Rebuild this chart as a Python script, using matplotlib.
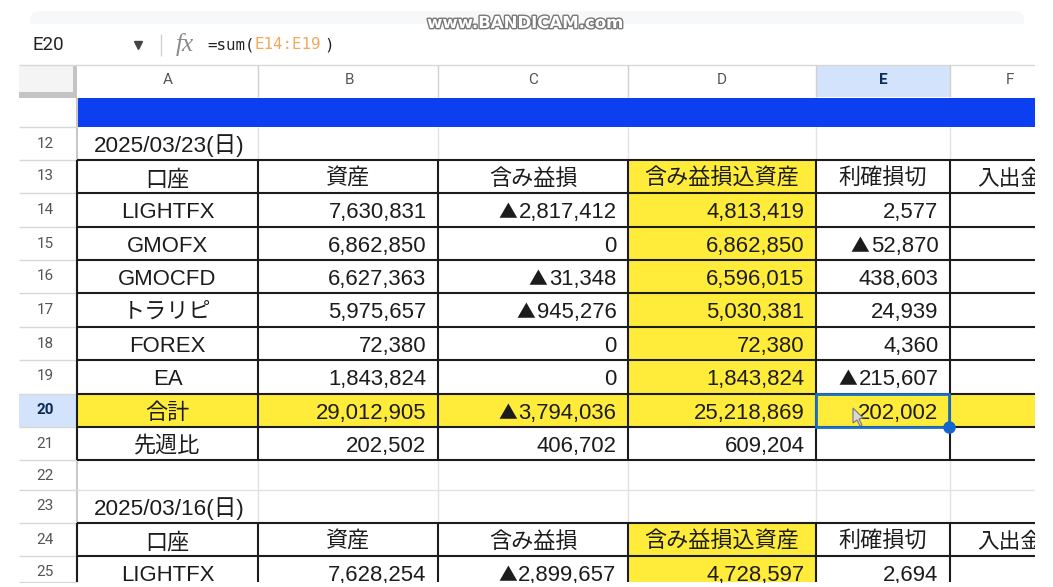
import matplotlib
matplotlib.use('Agg')
import matplotlib.pyplot as plt
import matplotlib.patheffects as pe
from matplotlib.patches import Rectangle, FancyBboxPatch, Polygon

plt.rcParams['font.family'] = ['Liberation Sans', 'Noto Sans CJK JP', 'DejaVu Sans']

# sheet contents
col_letters = ['A', 'B', 'C', 'D', 'E', 'F']
row_numbers = ['', '12', '13', '14', '15', '16', '17', '18', '19', '20', '21', '22', '23', '24', '25']
date_top = '2025/03/23(日)'
date_bottom = '2025/03/16(日)'
headers = ['口座', '資産', '含み益損', '含み益損込資産', '利確損切', '入出金']
accounts = ['LIGHTFX', 'GMOFX', 'GMOCFD', 'トラリピ', 'FOREX', 'EA', '合計', '先週比']
assets = ['7,630,831', '6,862,850', '6,627,363', '5,975,657', '72,380', '1,843,824', '29,012,905', '202,502']
unrealized = ['▲2,817,412', '0', '▲31,348', '▲945,276', '0', '0', '▲3,794,036', '406,702']
net_assets = ['4,813,419', '6,862,850', '6,596,015', '5,030,381', '72,380', '1,843,824', '25,218,869', '609,204']
realized = ['2,577', '▲52,870', '438,603', '24,939', '4,360', '▲215,607', '202,002', '']
next_row = ['LIGHTFX', '7,628,254', '▲2,899,657', '4,728,597', '2,694']

# layout in image pixels
col_x = [77, 258, 438, 628, 816, 950, 1035]
letter_x = [168, 349, 533, 722, 883, 1010]
row_y = [98, 127, 160, 193, 227, 260, 293, 327, 360, 394, 427, 460, 490, 523, 556, 582]
head_top = 65
fs = 15.9
dark = '#1c1c1c'
yellow = '#ffec3a'

fig = plt.figure(figsize=(10.53, 5.87), dpi=100)
ax = fig.add_axes([0, 0, 1, 1])
ax.set_xlim(0, 1053)
ax.set_ylim(587, 0)
ax.axis('off')


def fill(x0, x1, y0, y1, color, z=1):
    ax.add_patch(Rectangle((x0, y0), x1 - x0, y1 - y0, fc=color, ec='none', zorder=z))


def hline(y, x0, x1, color=dark, lw=1.5, z=3):
    ax.plot([x0, x1], [y, y], color=color, lw=lw, zorder=z, solid_capstyle='butt')


def vline(x, y0, y1, color=dark, lw=1.5, z=3):
    ax.plot([x, x], [y0, y1], color=color, lw=lw, zorder=z, solid_capstyle='butt')


# top bar of the browser window
ax.add_patch(FancyBboxPatch((30, 11), 994, 30, boxstyle='round,pad=0,rounding_size=10',
                            fc='#f7f8fa', ec='none', zorder=0))
fill(19, 1035, 24, 65, 'white', 0.5)

# formula bar
ax.text(33, 44.5, 'E20', fontsize=13.5, color='#222222', va='center', family=['Roboto', 'DejaVu Sans'])
ax.plot([138], [44.5], marker='v', ms=5.5, color='#444444', zorder=3)
vline(161, 34, 56, '#d0d0d0', 1)
ax.text(176, 45, 'fx', fontsize=18, style='italic', color='#8a8a8a', va='center', family='Liberation Serif')
ax.text(207, 44.5, '=sum(', fontsize=11.4, color='#222222', va='center', family='DejaVu Sans Mono')
ax.text(254, 44.5, 'E14:E19', fontsize=11.4, color='#f0a95a', va='center', family='DejaVu Sans Mono')
ax.text(324, 44.5, ')', fontsize=11.4, color='#222222', va='center', family='DejaVu Sans Mono')

# watermark
ax.text(525, 23, 'www.BANDICAM.com', fontsize=11.9, fontweight='bold', color='white', ha='center', va='center',
        family='DejaVu Sans', zorder=6,
        path_effects=[pe.withStroke(linewidth=2, foreground='#777777')])

# column headers
fill(19, 77, head_top, 98, '#c4c4c4')
fill(19, 73, head_top, 92, '#f4f4f4')
fill(col_x[4], col_x[5], head_top, 97, '#d3e3fb')
hline(head_top, 19, 1035, '#d8d8d8', 1)
for i, c in enumerate(col_letters):
    sel = c == 'E'
    ax.text(letter_x[i], 80.5, c, fontsize=11, ha='center', va='center',
            color='#0b2a55' if sel else '#555555', fontweight='bold' if sel else 'normal',
            family='Roboto')
    if i > 0:
        vline(col_x[i], head_top, 97, '#d0d0d0', 1)

# blue band
fill(77, 1035, 98, 127, '#0b3ff0')

# yellow cells
fill(col_x[3], col_x[4], row_y[2], row_y[9], yellow)
fill(col_x[3], col_x[4], row_y[13], row_y[15], yellow)
fill(col_x[0], col_x[6], row_y[9], row_y[10], yellow)

# row number gutter
fill(19, 77, row_y[9], row_y[10], '#d3e3fb')
vline(77, 98, 582, '#c8c8c8', 1.5, 2)
for i, n in enumerate(row_numbers):
    y0, y1 = row_y[i], row_y[i + 1]
    hline(y1, 19, 77, '#d8d8d8', 1, 2)
    if n:
        sel = n == '20'
        ax.text(45, y0 + 16.5, n, fontsize=11, ha='center', va='center',
                color='#0b2a55' if sel else '#555555', fontweight='bold' if sel else 'normal',
                family='Roboto')

# light grid of the empty rows
for i in [1, 11, 12]:
    for x in col_x[1:-1]:
        vline(x, row_y[i], row_y[i + 1], '#e2e2e2', 1, 2)
hline(row_y[12], 77, 1035, '#e2e2e2', 1, 2)

# black table borders
for i in list(range(2, 12)) + [13, 14]:
    hline(row_y[i], 77, 1035)
for x in col_x[:-1]:
    vline(x, row_y[2], row_y[11])
    vline(x, row_y[13], row_y[15])

# text, all on a fixed baseline below the top of the row
base = 25


def centre(i, y0, s):
    ax.text((col_x[i] + col_x[i + 1]) / 2, y0 + base, s, fontsize=fs, ha='center', va='baseline', color=dark, zorder=4)


def right(i, y0, s):
    neg = s.startswith('▲')
    t = ax.text(col_x[i + 1] - 11.5, y0 + base, s[1:] if neg else s, fontsize=fs, ha='right', va='baseline',
                color=dark, zorder=4)
    if neg:
        # the triangle is set apart so it can be sized like the one in the sheet
        box = t.get_window_extent(fig.canvas.get_renderer())
        ax.text(box.x0 - 1.5, y0 + base, '▲', fontsize=13.5, ha='right', va='baseline', color=dark, zorder=4,
                family=['Noto Sans CJK JP', 'DejaVu Sans'])


ax.text(94, row_y[1] + base, date_top, fontsize=16.2, va='baseline', color=dark, zorder=4)
ax.text(94, row_y[12] + base, date_bottom, fontsize=16.2, va='baseline', color=dark, zorder=4)

for r in [2, 13]:
    for i, h in enumerate(headers):
        if i == 5:
            ax.text(977, row_y[r] + base, h, fontsize=fs - 0.3, va='baseline', color=dark, zorder=4)
        else:
            centre(i, row_y[r], h)

for k in range(8):
    y0 = row_y[3 + k]
    centre(0, y0, accounts[k])
    right(1, y0, assets[k])
    right(2, y0, unrealized[k])
    right(3, y0, net_assets[k])
    right(4, y0, realized[k])

y0 = row_y[14]
centre(0, y0, next_row[0])
for i in range(1, 5):
    right(i, y0, next_row[i])

# selected cell
ax.add_patch(Rectangle((col_x[4], row_y[9]), col_x[5] - col_x[4] - 1, row_y[10] - row_y[9],
                       fc='none', ec='#1a6fc4', lw=2, zorder=5))
ax.plot([949], [row_y[10]], marker='o', ms=8, color='#1565d0', zorder=6)
# mouse pointer
ax.add_patch(Polygon([(853, 408), (853, 423), (857, 420), (860, 426), (862, 425), (859, 419), (863, 418)],
                     fc='#d8d8d8', ec='#777777', lw=0.8, zorder=6))

# white strip past the sheet and below it
fill(1035, 1053, 0, 587, 'white', 5.5)
fill(0, 19, 0, 587, 'white', 5.5)
fill(0, 1053, 583, 587, 'white', 5.5)

fig.savefig('out.png', dpi=100)
